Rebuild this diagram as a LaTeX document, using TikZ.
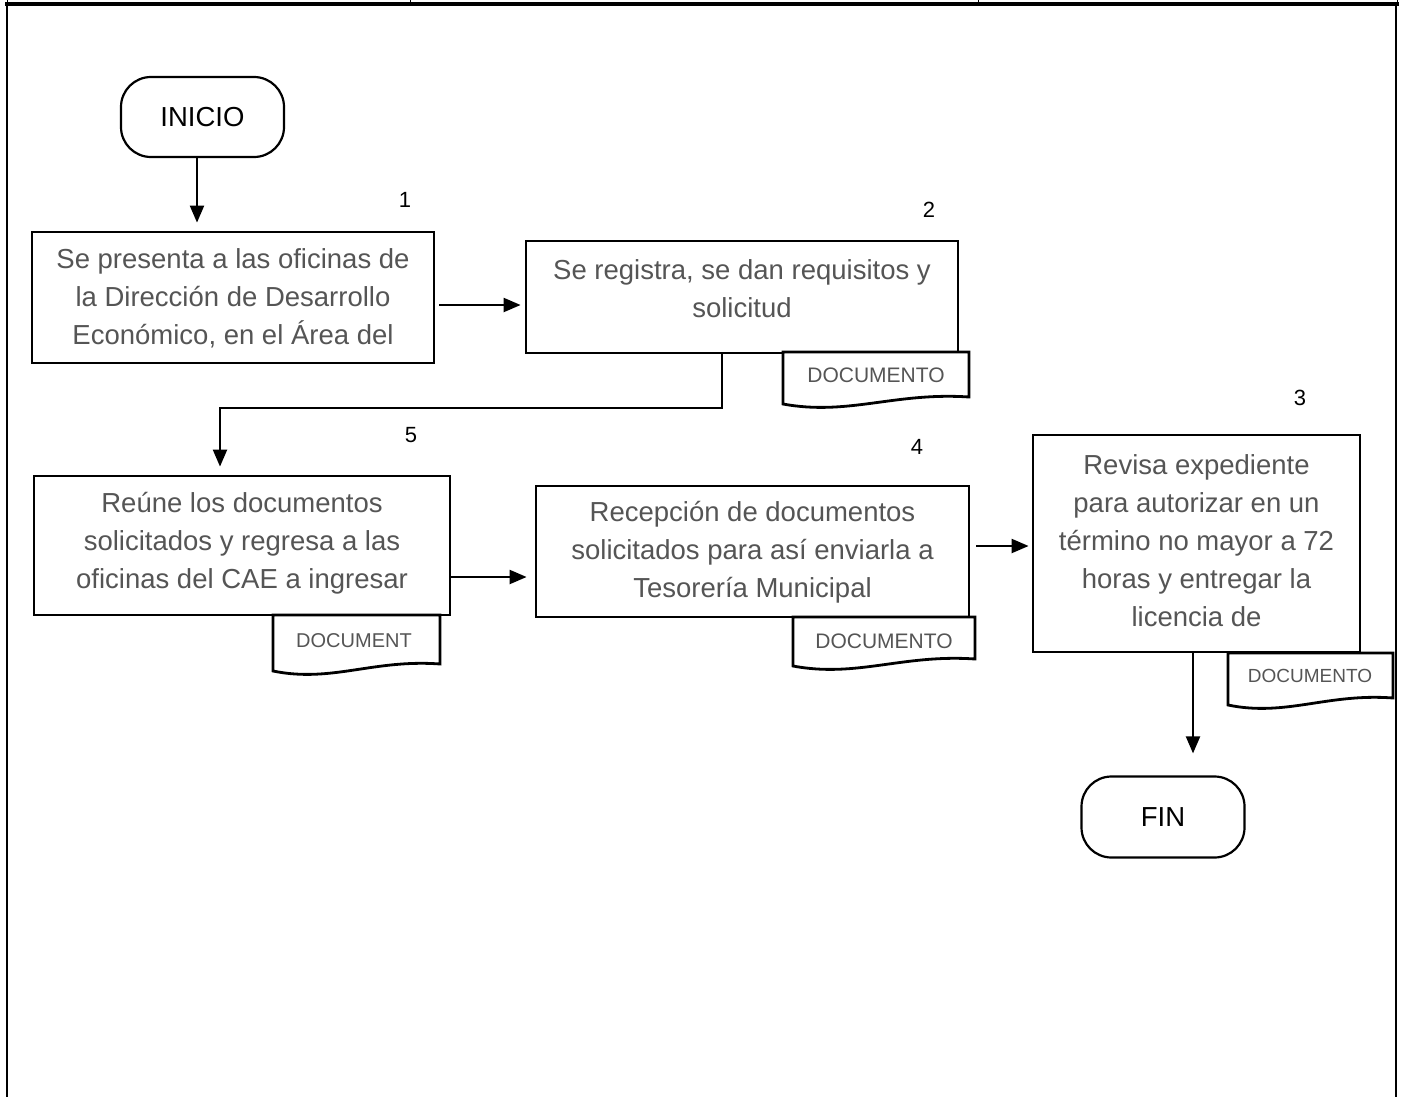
\documentclass[tikz,border=0pt]{standalone}
\usepackage{fontspec}
\setmainfont{Liberation Sans}
\usetikzlibrary{arrows.meta,calc}
\definecolor{txtgray}{RGB}{85,85,85}
\tikzset{
  procbox/.style={draw=black, line width=2.8pt, inner sep=0pt, fill=white},
  proctext/.style={text=txtgray, align=center, inner sep=0pt, font=\fontsize{27.5}{38}\selectfont},
  termbox/.style={draw=black, line width=2.2pt, rounded corners=30pt, inner sep=0pt, font=\fontsize{27.5}{32}\selectfont},
  flow/.style={line width=2.2pt, -{Triangle[length=17pt,width=14pt]}},
  stepnum/.style={font=\fontsize{22}{26}\selectfont, inner sep=0pt},
  doctext/.style={text=txtgray, inner sep=0pt},
  docline/.style={draw=black, line width=2.8pt, fill=white, line join=miter},
  frameline/.style={draw=black, line width=2pt},
}
% document symbol: left, top, right, bottom at the left edge
\newcommand\DocSymbol[4]{%
  \path[docline] (#1,#2) -- (#3,#2) -- (#3,{#4-7})
    .. controls ({#1+0.6*(#3-#1)},{#4-12}) and ({#1+0.35*(#3-#1)},{#4+12}) .. (#1,#4) -- cycle;}
\begin{document}
\begin{tikzpicture}[x=1pt,y=-1pt]
\useasboundingbox (0,0) rectangle (1402,1097);

% page frame and header row
\draw[line width=1pt] (7,0) -- (7,4) (410,0) -- (410,4) (978,0) -- (978,4) (1397,0) -- (1397,4);
\draw[frameline] (7,4) -- (7,1097);
\draw[frameline] (1396,4) -- (1396,1097);
\draw[line width=3.5pt] (5,4) -- (1399,4);

% terminals
\node[termbox, minimum width=163pt, minimum height=80pt] (ini) at (202.5,117) {INICIO};
\node[termbox, minimum width=163pt, minimum height=81pt] (fin) at (1163,817) {FIN};

% process boxes
\node[procbox, minimum width=402pt, minimum height=131pt] (b1) at (233,297.5) {};
\node[proctext] (t1) at (233,298) {Se presenta a las oficinas de\\la Dirección de Desarrollo\\Económico, en el Área del};

\node[procbox, minimum width=432pt, minimum height=112pt] (b2) at (742,297) {};
\node[proctext] (t2) at (742,288.5) {Se registra, se dan requisitos y\\solicitud};

\node[procbox, minimum width=416pt, minimum height=139pt] (b5) at (242,545.5) {};
\node[proctext] (t5) at (242,543.5) {Reúne los documentos\\solicitados y regresa a las\\oficinas del CAE a ingresar};

\node[procbox, minimum width=433pt, minimum height=131pt] (b4) at (752.5,551.5) {};
\node[proctext] (t4) at (752.5,552.5) {Recepción de documentos\\solicitados para así enviarla a\\Tesorería Municipal};

\node[procbox, minimum width=327pt, minimum height=217pt] (b3) at (1196.5,543.5) {};
\node[proctext] (t3) at (1196.5,541) {Revisa expediente\\para autorizar en un\\término no mayor a 72\\horas y entregar la\\licencia de};

% document symbols
\DocSymbol{783}{352}{969}{404}
\node[doctext, font=\fontsize{21}{24}\selectfont] (d2) at (876,375) {DOCUMENTO};
\DocSymbol{273}{615}{440}{671}
\node[doctext, font=\fontsize{20}{24}\selectfont] (d5) at (354,641) {DOCUMENT};
\DocSymbol{793}{617}{975}{666}
\node[doctext, font=\fontsize{21}{24}\selectfont] (d4) at (884,641) {DOCUMENTO};
\DocSymbol{1228}{653}{1393}{705}
\node[doctext, font=\fontsize{19}{22}\selectfont] (d3) at (1310,676) {DOCUMENTO};

% step numbers
\node[stepnum] (n1) at (405,200) {1};
\node[stepnum] (n2) at (929,210) {2};
\node[stepnum] (n3) at (1300,398) {3};
\node[stepnum] (n4) at (917,447) {4};
\node[stepnum] (n5) at (411,435) {5};

% connectors
\coordinate (k0) at (197,160);
\draw[flow, shorten >=8pt] (ini.south -| k0) -- (k0 |- b1.north);

\coordinate (a12) at (480,305);
\draw[flow, shorten <=4pt, shorten >=4pt] (b1.east |- a12) -- (b2.west |- a12);

\coordinate (k1) at (722,408);
\coordinate (k2) at (220,408);
\draw[flow, shorten >=8pt] (b2.south -| k1) -- (k1) -- (k2) -- (k2 |- b5.north);

\coordinate (a54) at (490,577);
\draw[flow, shorten >=8pt] (b5.east |- a54) -- (b4.west |- a54);

\coordinate (a43) at (1000,546);
\draw[flow, shorten <=6pt, shorten >=3pt] (b4.east |- a43) -- (b3.west |- a43);

\coordinate (k3) at (1193,700);
\draw[flow, shorten >=22pt] (b3.south -| k3) -- (k3 |- fin.north);
\end{tikzpicture}
\end{document}
